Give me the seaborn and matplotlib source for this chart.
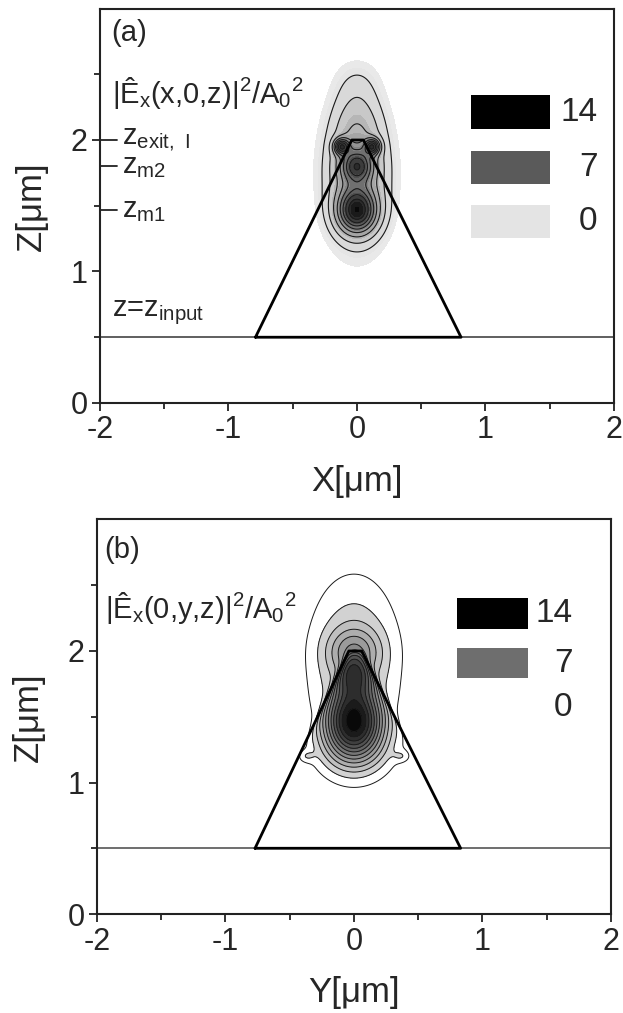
import numpy as np
import pandas as pd
import matplotlib
matplotlib.use("Agg")
import matplotlib.pyplot as plt
from matplotlib.colors import LinearSegmentedColormap
from matplotlib.patches import Rectangle
import seaborn as sns

# ---------------- data ----------------
x_ticks = [-2, -1, 0, 1, 2]
z_ticks = [0, 1, 2]
legend_values = [14, 7, 0]
legend_colors_a = ["#000000", "#5a5a5a", "#e4e4e4"]
legend_colors_b = ["#000000", "#6e6e6e", "#ffffff"]

# tip outline (x, z) in micrometres
tip_a_x = [-0.79, -0.04, 0.05, 0.81, -0.79]
tip_a_z = [0.50, 2.00, 2.00, 0.50, 0.50]
tip_b_x = [-0.77, -0.04, 0.06, 0.83, -0.77]
tip_b_z = [0.50, 2.00, 2.00, 0.50, 0.50]
z_input = 0.5

# marked heights in panel (a)
z_marks = [2.00, 1.80, 1.47]
z_mark_labels = [r"z$_{exit,\ I}$", r"z$_{m2}$", r"z$_{m1}$"]

# intensity lobes, panel (a): centre x, centre z, width x, width z, peak value
lobe_a_x = [0.00, 0.00, 0.00, 0.00, -0.12, 0.12, 0.00]
lobe_a_z = [1.74, 2.15, 1.46, 1.80, 1.95, 1.95, 2.45]
lobe_a_sx = [0.155, 0.12, 0.10, 0.08, 0.04, 0.04, 0.12]
lobe_a_sz = [0.32, 0.20, 0.11, 0.08, 0.04, 0.04, 0.12]
lobe_a_amp = [4.5, 1.3, 10.0, 6.5, 8.0, 8.0, 0.45]

# panel (b): lobes outside the tip (free space) and inside the tip
lobe_bo_x = [0.00, 0.00, 0.00, -0.37, 0.37]
lobe_bo_z = [2.00, 2.00, 1.50, 1.20, 1.20]
lobe_bo_sx = [0.24, 0.14, 0.20, 0.045, 0.045]
lobe_bo_sz = [0.40, 0.12, 0.30, 0.032, 0.032]
lobe_bo_amp = [2.9, 3.1, 1.6, 1.3, 1.3]

lobe_bi_x = [0.00, 0.00, 0.00]
lobe_bi_z = [1.48, 1.82, 1.25]
lobe_bi_sx = [0.16, 0.13, 0.18]
lobe_bi_sz = [0.17, 0.12, 0.15]
lobe_bi_amp = [10.0, 6.0, 3.0]

line_levels_a = [1, 2, 3.5, 5, 6.5, 8, 9.5, 11, 12.5]
fill_levels_a = [0.42, 0.7, 1, 2, 3, 4, 5, 6, 7, 8, 9, 10, 11, 12, 13, 14, 18]
line_levels_b = list(range(1, 15))
fill_levels_b = list(range(2, 19))

# ---------------- helpers ----------------
def lobes(X, Z, xs, zs, sxs, szs, amps):
    F = np.zeros_like(X)
    for x0, z0, sx, sz, a in zip(xs, zs, sxs, szs, amps):
        F += a * np.exp(-0.5 * (((X - x0) / sx) ** 2 + ((Z - z0) / sz) ** 2))
    return F

def inside_tip(X, Z, tx, tz, w=0.015):
    xl0, zl0, xl1, zl1 = tx[0], tz[0], tx[1], tz[1]
    xr0, zr0, xr1, zr1 = tx[3], tz[3], tx[2], tz[2]
    xl = xl0 + (Z - zl0) * (xl1 - xl0) / (zl1 - zl0)
    xr = xr0 + (Z - zr0) * (xr1 - xr0) / (zr1 - zr0)
    sig = lambda v: 1.0 / (1.0 + np.exp(-v / w))
    return sig(X - xl) * sig(xr - X) * sig(tz[1] - Z) * sig(Z - tz[0])

xg = np.linspace(-2, 2, 801)
zg = np.linspace(0, 3, 601)
X, Z = np.meshgrid(xg, zg)

F_a = lobes(X, Z, lobe_a_x, lobe_a_z, lobe_a_sx, lobe_a_sz, lobe_a_amp)
F_b = (lobes(X, Z, lobe_bo_x, lobe_bo_z, lobe_bo_sx, lobe_bo_sz, lobe_bo_amp)
       + inside_tip(X, Z, tip_b_x, tip_b_z)
       * lobes(X, Z, lobe_bi_x, lobe_bi_z, lobe_bi_sx, lobe_bi_sz, lobe_bi_amp))

# ---------------- style ----------------
sns.set_theme(style="ticks")
plt.rcParams["font.family"] = ["Liberation Sans", "DejaVu Sans"]
plt.rcParams["mathtext.default"] = "regular"
plt.rcParams["axes.unicode_minus"] = False
plt.rcParams["axes.linewidth"] = 1.5

cmap_a = LinearSegmentedColormap.from_list("ga", ["#f3f3f3", "#000000"])
cmap_b = LinearSegmentedColormap.from_list("gb", ["#ffffff", "#000000"])

fig = plt.figure(figsize=(6.23, 10.13), dpi=100)
ax_a = fig.add_axes([0.1605, 0.6022, 0.825, 0.3894])
ax_b = fig.add_axes([0.1557, 0.0977, 0.825, 0.3895])

def style_axes(ax, xlabel):
    ax.set_xlim(-2, 2)
    ax.set_ylim(0, 3)
    ax.set_xticks(x_ticks)
    ax.set_yticks(z_ticks)
    ax.set_xticks(np.arange(-1.5, 2, 1.0), minor=True)
    ax.set_yticks([0.5, 1.5, 2.5], minor=True)
    ax.tick_params(which="major", direction="out", length=6, width=1.3,
                   labelsize=22, pad=3, color="#222222")
    ax.tick_params(which="minor", direction="out", length=4, width=1.3, color="#222222")
    for s in ax.spines.values():
        s.set_color("#222222")
        s.set_linewidth(1.5)
    ax.set_xlabel(xlabel, fontsize=25, labelpad=14)
    ax.set_ylabel("Z[μm]", fontsize=25, labelpad=16)

# ---------------- panel (a) ----------------
ax = ax_a
ax.contourf(X, Z, F_a, levels=fill_levels_a, cmap=cmap_a, vmin=0, vmax=14)
ax.contour(X, Z, F_a, levels=line_levels_a, colors="#1a1a1a", linewidths=0.8)
ax.axhline(z_input, color="#444444", lw=1.2)
sns.lineplot(x=tip_a_x, y=tip_a_z, sort=False, estimator=None, color="black",
             lw=2.0, ax=ax)
for zm, lab in zip(z_marks, z_mark_labels):
    ax.plot([-2, -1.87], [zm, zm], color="#222222", lw=1.3)
    ax.text(-1.83, zm, lab, fontsize=21, va="center", ha="left")
ax.text(-1.91, 2.81, "(a)", fontsize=21, va="center", ha="left")
ax.text(-1.91, 2.36, r"|Ê$_x$(x,0,z)|$^2$/A$_0$$^2$", fontsize=21, va="center", ha="left")
ax.text(-1.91, 0.69, r"z=z$_{input}$", fontsize=21, va="center", ha="left")
ys_a = [(2.08, 2.34), (1.665, 1.92), (1.255, 1.505)]
for (y0, y1), c, v in zip(ys_a, legend_colors_a, legend_values):
    ax.add_patch(Rectangle((0.89, y0), 0.61, y1 - y0, facecolor=c, edgecolor="none"))
    ax.text(1.87, (y0 + y1) / 2, str(v), fontsize=24, va="center", ha="right")
style_axes(ax, "X[μm]")

# ---------------- panel (b) ----------------
ax = ax_b
ax.contourf(X, Z, F_b, levels=fill_levels_b, cmap=cmap_b, vmin=0, vmax=14)
ax.contour(X, Z, F_b, levels=line_levels_b, colors="#1a1a1a", linewidths=0.7)
ax.axhline(z_input, color="#555555", lw=1.2)
sns.lineplot(x=tip_b_x, y=tip_b_z, sort=False, estimator=None, color="black",
             lw=2.0, ax=ax)
ax.text(-1.94, 2.77, "(b)", fontsize=21, va="center", ha="left")
ax.text(-1.94, 2.33, r"|Ê$_x$(0,y,z)|$^2$/A$_0$$^2$", fontsize=21, va="center", ha="left")
ys_b = [(2.165, 2.40), (1.795, 2.02), (1.45, 1.69)]
for (y0, y1), c, v in zip(ys_b, legend_colors_b, legend_values):
    ax.add_patch(Rectangle((0.80, y0), 0.555, y1 - y0, facecolor=c, edgecolor="none"))
    ax.text(1.70, (y0 + y1) / 2, str(v), fontsize=24, va="center", ha="right")
style_axes(ax, "Y[μm]")

fig.savefig("out.png", dpi=100, facecolor="white")
